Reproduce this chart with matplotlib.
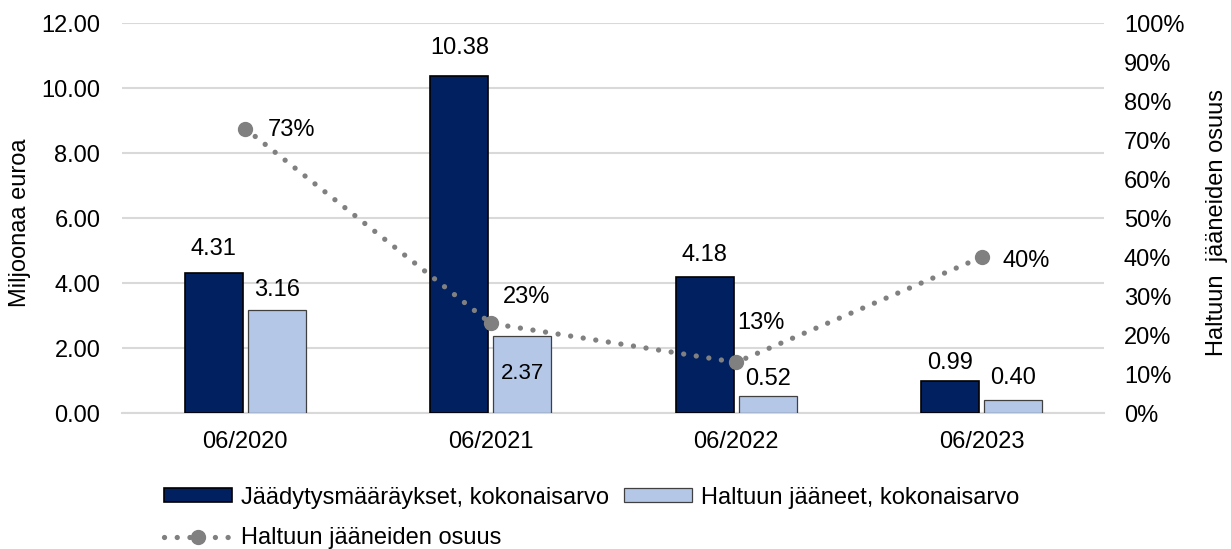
import numpy as np
import matplotlib
matplotlib.use("Agg")
import matplotlib.pyplot as plt
from matplotlib.ticker import FuncFormatter, PercentFormatter

plt.rcParams["font.family"] = ["Liberation Sans", "DejaVu Sans"]

# data
categories = ["06/2020", "06/2021", "06/2022", "06/2023"]
total_value = [4.31, 10.38, 4.18, 0.99]      # Jäädytysmääräykset, kokonaisarvo
kept_value = [3.16, 2.37, 0.52, 0.40]        # Haltuun jääneet, kokonaisarvo
kept_share = [73, 23, 13, 40]                # Haltuun jääneiden osuus, %

# label offsets (points), style only
total_dy = [17, 20, 16, 13]
kept_dy = [15, -27, 12, 16]
share_off = [(16, -1), (9, 19), (1, 28), (15, -3)]

FS = 17
DARK = "#002060"
LIGHT = "#b4c7e7"
GRAY = "#808080"

fig = plt.figure(figsize=(12.31, 5.49), dpi=100)
ax = fig.add_axes([0.0995, 0.2477, 0.7977, 0.7098])
ax2 = ax.twinx()

x = np.arange(len(categories))
w = 0.236
off = 0.128

b1 = ax.bar(x - off, total_value, w, color=DARK, edgecolor="black", linewidth=1.2,
            label="Jäädytysmääräykset, kokonaisarvo", zorder=3)
b2 = ax.bar(x + off, kept_value, w, color=LIGHT, edgecolor="#404040", linewidth=0.9,
            label="Haltuun jääneet, kokonaisarvo", zorder=3)

for xi, v, dy in zip(x - off, total_value, total_dy):
    ax.annotate(f"{v:.2f}", (xi, v), xytext=(0, dy), textcoords="offset points",
                ha="center", va="center", fontsize=FS)
for xi, v, dy in zip(x + off, kept_value, kept_dy):
    ax.annotate(f"{v:.2f}", (xi, v), xytext=(0, dy), textcoords="offset points",
                ha="center", va="center", fontsize=FS - 1 if dy < 0 else FS)

ax.set_xlim(-0.5, len(categories) - 0.5)
ax.set_ylim(0, 12)
ax.set_yticks(np.arange(0, 12.01, 2))
ax.yaxis.set_major_formatter(FuncFormatter(lambda v, p: f"{v:.2f}"))
ax.set_xticks(x)
ax.set_xticklabels(categories)
ax.grid(axis="y", color="#d9d9d9", linewidth=1.5, zorder=0)
ax.set_axisbelow(True)
ax.tick_params(axis="both", length=0, labelsize=FS)
ax.tick_params(axis="y", pad=16)
ax.tick_params(axis="x", pad=13)
for s in ["top", "left", "right"]:
    ax.spines[s].set_visible(False)
ax.spines["bottom"].set_color("#d9d9d9")
ax.spines["bottom"].set_linewidth(1.5)

line, = ax2.plot(x, kept_share, color=GRAY, linewidth=3.8,
                 linestyle=(0, (0.01, 2.4)), dash_capstyle="round",
                 marker="o", markersize=10, markeredgecolor=GRAY,
                 label="Haltuun jääneiden osuus", zorder=4)
for xi, v, (dx, dy) in zip(x, kept_share, share_off):
    ax2.annotate(f"{v}%", (xi, v), xytext=(dx, dy), textcoords="offset points",
                 ha="left", va="center", fontsize=FS)

ax2.set_ylim(0, 100)
ax2.set_yticks(np.arange(0, 101, 10))
ax2.yaxis.set_major_formatter(PercentFormatter(decimals=0))
ax2.tick_params(axis="y", length=0, labelsize=FS, pad=14)
for s in ax2.spines.values():
    s.set_visible(False)

fig.text(20 / 1231, 1 - 223 / 549, "Miljoonaa euroa", rotation=90,
         ha="center", va="center", fontsize=FS)
fig.text(1217 / 1231, 1 - 222 / 549, "Haltuun  jääneiden osuus", rotation=90,
         ha="center", va="center", fontsize=FS)

fig.legend([b1, line, b2],
           [b1.get_label(), line.get_label(), b2.get_label()],
           ncol=2, loc="center left", bbox_to_anchor=(164 / 1231, 1 - 518 / 549),
           frameon=False, fontsize=FS, borderpad=0, borderaxespad=0,
           handlelength=2.9, handleheight=0.5, handletextpad=0.38,
           columnspacing=0.6, labelspacing=0.8)

fig.savefig("out.png", dpi=100)
